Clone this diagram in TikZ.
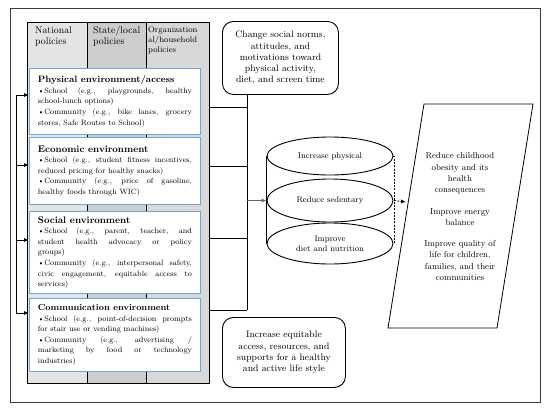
\documentclass[tikz,border=0pt]{standalone}
\usetikzlibrary{arrows.meta,shapes.geometric}
\definecolor{envblue}{RGB}{110,165,220}
\definecolor{natgray}{RGB}{228,228,228}
\definecolor{stategray}{RGB}{205,205,205}
\definecolor{orggray}{RGB}{216,216,216}
\definecolor{framegray}{RGB}{60,60,60}
\begin{document}
\begin{tikzpicture}[x=1pt,y=-1pt,
  conn/.style={draw=black,line width=0.8pt},
  arr/.style={-{Latex[length=5pt,width=4pt]}},
  envbox/.style={draw=envblue,fill=white,line width=0.9pt,anchor=north west,
    minimum width=171pt,text width=154pt,inner xsep=8.5pt,inner ysep=2pt,
    align=justify,font=\fontsize{7.7}{10.6}\selectfont},
  head/.style={anchor=north west,align=left,inner sep=0pt,font=\fontsize{9.8}{11}\selectfont},
  roundbox/.style={draw=black,line width=0.9pt,rounded corners=11pt,fill=white,
    align=center,font=\fontsize{9.4}{11.3}\selectfont,anchor=north west,inner sep=0pt},
  oval/.style={ellipse,draw=black,line width=0.9pt,fill=white,minimum width=126pt,
    align=center,inner sep=0pt,font=\fontsize{8.2}{10.2}\selectfont},
  outtext/.style={align=center,font=\fontsize{8.6}{11.2}\selectfont,inner sep=0pt}
]
\useasboundingbox (0,0) rectangle (550,408);
% outer frame
\node[draw=framegray,line width=0.9pt,anchor=north west,minimum width=530pt,minimum height=394pt,inner sep=0pt] (frame) at (10,8) {};
% policy panel
\fill[natgray] (27,22) rectangle (87,383);
\fill[stategray] (87,22) rectangle (146,383);
\fill[orggray] (146,22) rectangle (209,383);
\node[draw=black,line width=1pt,anchor=north west,minimum width=182pt,minimum height=361pt,inner sep=0pt] (panel) at (27,22) {};
\draw[conn] (87,22) -- (87,383);
\draw[conn] (146,22) -- (146,383);
\node[head] (hnat) at (35,26) {National\\policies};
\node[head] (hstate) at (93,26) {State/local\\policies};
\node[head,font=\fontsize{8.2}{10}\selectfont] (horg) at (148,27) {Organization\\al/household\\policies};
% environment boxes
\node[envbox,minimum height=66pt] (phys) at (29,68) {{\fontsize{9.2}{10.6}\selectfont\bfseries Physical environment/access}\par
\textbullet School (e.g., playgrounds, healthy\linebreak school-lunch options)\par
\textbullet Community (e.g., bike lanes, grocery\linebreak stores, Safe Routes to School)};
\node[envbox,minimum height=67pt] (econ) at (29,137) {{\fontsize{9.6}{10.6}\selectfont\bfseries Economic environment}\par
\textbullet School (e.g., student fitness incentives,\linebreak reduced pricing for healthy snacks)\par
\textbullet Community (e.g., price of gasoline,\linebreak healthy foods through WIC)};
\node[envbox,minimum height=82pt] (soc) at (29,211) {{\fontsize{9.6}{10.6}\selectfont\bfseries Social environment}\par
\textbullet School (e.g., parent, teacher, and\linebreak student health advocacy or policy\linebreak groups)\par
\textbullet Community (e.g., interpersonal safety,\linebreak civic engagement, equitable access to\linebreak services)};
\node[envbox,minimum height=73pt] (comm) at (29,298) {{\fontsize{8.8}{10.6}\selectfont\bfseries Communication environment}\par
\textbullet School (e.g., point-of-decision prompts\linebreak for stair use or vending machines)\par
\textbullet Community (e.g., advertising /\linebreak marketing by food or technology\linebreak industries)};
% left bracket arrows
\coordinate (lbar) at (16,0);
\draw[conn] (lbar |- 0,95) -- (lbar |- 0,313);
\draw[conn,arr] (lbar |- 0,95) -- (phys.west |- 0,95);
\draw[conn,arr] (lbar |- 0,165) -- (econ.west |- 0,165);
\draw[conn,arr] (lbar |- 0,240) -- (soc.west |- 0,240);
\draw[conn,arr] (lbar |- 0,313) -- (comm.west |- 0,313);
% right side boxes
\node[roundbox,minimum width=116pt,minimum height=73pt] (norms) at (222,21) {Change social norms,\\attitudes, and\\motivations toward\\physical activity,\\diet, and screen time};
\node[roundbox,minimum width=123pt,minimum height=70pt] (access) at (222,317) {Increase equitable\\access, resources, and\\supports for a healthy\\and active life style};
% bus
\coordinate (bus) at (247,0);
\draw[conn] (bus |- norms.south) -- (bus |- 0,310);
\draw[conn] (panel.east |- 0,107) -- (bus |- 0,107);
\draw[conn] (panel.east |- 0,166) -- (bus |- 0,166);
\draw[conn] (panel.east |- 0,238) -- (bus |- 0,238);
\draw[conn] (panel.east |- 0,310) -- (bus |- 0,310);
% cylinder of ovals
\node[oval,minimum height=38pt] (ephys) at (330,156) {Increase physical};
\node[oval,minimum height=43pt] (esed) at (330,200.5) {Reduce sedentary};
\node[oval,minimum height=41pt] (ediet) at (330,243.5) {Improve\\diet and nutrition};
\draw[conn] (ephys.west) -- (ediet.west);
\draw[draw=gray!80!black,line width=0.8pt,arr] (bus |- esed.west) -- (esed.west);
\coordinate (dashx) at (394,0);
\draw[conn,dashed,dash pattern=on 2pt off 1.3pt] (ephys.east) -- (dashx |- ephys.east) -- (dashx |- ediet.east) -- (ediet.east);
% outcome parallelogram
\coordinate (pa) at (424,104);
\coordinate (pb) at (533,104);
\coordinate (pc) at (497,328);
\coordinate (pd) at (388,328);
\draw[conn] (pa) -- (pb) -- (pc) -- (pd) -- cycle;
\coordinate (pin) at (406,202);
\draw[conn,dashed,dash pattern=on 2pt off 1.3pt,arr] (dashx |- esed.east) -- (pin);
\node[outtext] (out1) at (460,173.5) {Reduce childhood\\obesity and its\\health\\consequences};
\node[outtext] (out2) at (460,217.5) {Improve energy\\balance};
\node[outtext] (out3) at (460,260.5) {Improve quality of\\life for children,\\families, and their\\communities};
\end{tikzpicture}
\end{document}
